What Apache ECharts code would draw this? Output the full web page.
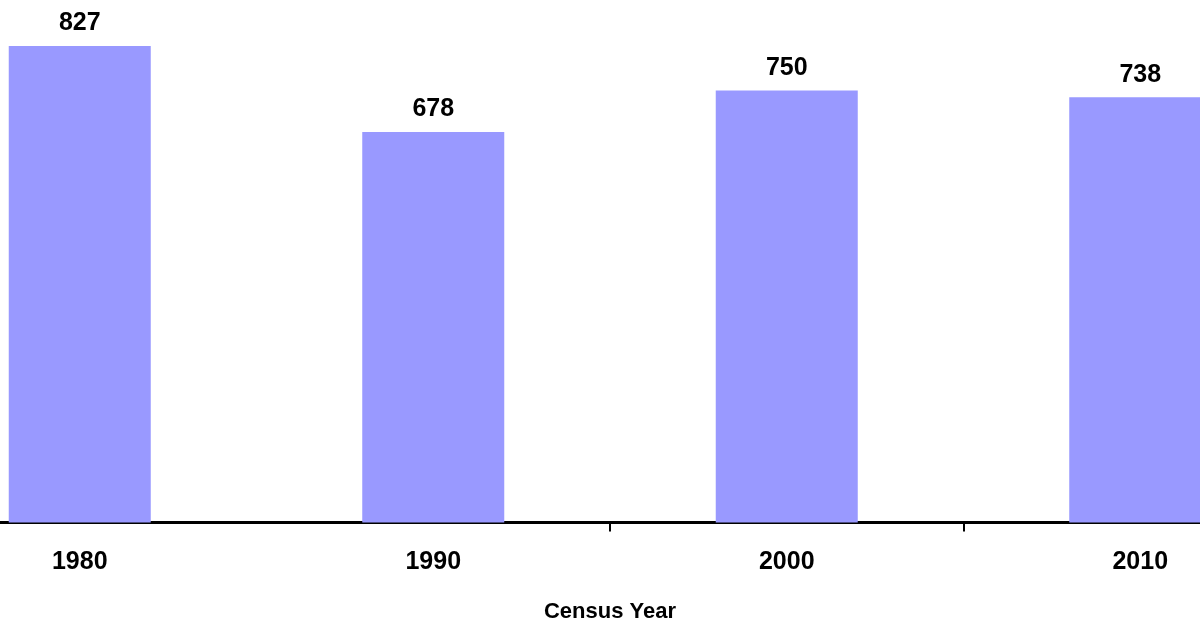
<!DOCTYPE html>
<html>
<head>
<meta charset="utf-8">
<script src="https://cdn.jsdelivr.net/npm/echarts@6/dist/echarts.min.js"></script>
<style>
html,body{margin:0;padding:0;background:#fff;}
#c{width:1200px;height:625px;}
</style>
</head>
<body>
<div id="c"></div>
<script>
const categories = ['1980', '1990', '2000', '2010'];
const values = [827, 678, 750, 738];
const axisName = 'Census Year';

const chart = echarts.init(document.getElementById('c'), null, {renderer: 'canvas'});
chart.setOption({
  animation: false,
  backgroundColor: '#ffffff',
  grid: {left: -97, right: -117, top: 4, bottom: 102.5, containLabel: false, outerBoundsMode: 'none'},
  xAxis: {
    type: 'category',
    data: categories,
    name: axisName,
    nameLocation: 'middle',
    nameGap: 78,
    nameTextStyle: {fontFamily: 'Liberation Sans', fontWeight: 'bold', fontSize: 22, color: '#000'},
    axisLine: {lineStyle: {color: '#000', width: 3}},
    axisTick: {
      show: true,
      length: 9,
      lineStyle: {color: '#000', width: 2},
      interval: function (idx) { return idx === 2 || idx === 3; }
    },
    axisLabel: {fontFamily: 'Liberation Sans', fontWeight: 'bold', fontSize: 25, color: '#000', margin: 27}
  },
  yAxis: {
    type: 'value',
    min: 0,
    max: 900,
    show: false,
    splitLine: {show: false}
  },
  series: [{
    type: 'bar',
    data: values,
    barWidth: 142,
    itemStyle: {color: '#9999FF'},
    label: {
      show: true,
      position: 'top',
      distance: 10,
      fontFamily: 'Liberation Sans',
      fontWeight: 'bold',
      fontSize: 25,
      color: '#000'
    }
  }]
});
</script>
</body>
</html>
